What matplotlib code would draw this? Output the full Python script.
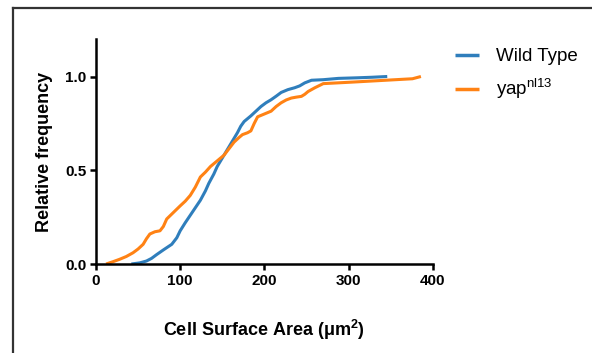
import numpy as np
import matplotlib
matplotlib.use('Agg')
import matplotlib.pyplot as plt
from matplotlib.lines import Line2D

plt.rcParams['font.family'] = ['Liberation Sans', 'DejaVu Sans']

# cumulative distribution
wt_x = [42, 52, 60, 66, 72, 80, 90, 96, 100, 106, 112, 118, 124, 130, 134, 140, 144, 150, 156, 162, 168, 172, 176, 180, 184, 190, 196, 202, 208, 214, 220, 228, 236, 242, 248, 256, 270, 288, 310, 328, 346]
wt_y = [0.0, 0.006, 0.016, 0.03, 0.05, 0.075, 0.105, 0.14, 0.177, 0.22, 0.26, 0.30, 0.34, 0.39, 0.43, 0.48, 0.52, 0.565, 0.61, 0.655, 0.70, 0.735, 0.76, 0.775, 0.79, 0.815, 0.84, 0.86, 0.876, 0.895, 0.915, 0.93, 0.94, 0.95, 0.966, 0.98, 0.983, 0.99, 0.993, 0.996, 1.0]

yap_x = [12, 20, 28, 36, 44, 50, 56, 60, 64, 70, 76, 80, 84, 92, 100, 106, 112, 118, 124, 130, 136, 144, 152, 158, 164, 170, 174, 180, 184, 188, 192, 200, 208, 214, 220, 226, 232, 238, 244, 248, 252, 260, 270, 304, 344, 376, 386]
yap_y = [0.0, 0.012, 0.025, 0.04, 0.06, 0.08, 0.105, 0.135, 0.16, 0.172, 0.177, 0.20, 0.24, 0.275, 0.31, 0.335, 0.366, 0.41, 0.464, 0.49, 0.52, 0.55, 0.58, 0.615, 0.65, 0.675, 0.69, 0.70, 0.71, 0.75, 0.785, 0.80, 0.815, 0.84, 0.86, 0.875, 0.885, 0.89, 0.894, 0.905, 0.92, 0.94, 0.962, 0.97, 0.98, 0.988, 1.0]

xticks = [0, 100, 200, 300, 400]
yticks = [0.0, 0.5, 1.0]

fig = plt.figure(figsize=(5.92, 3.53), dpi=100)
ax = fig.add_axes([96/592, 1 - 264/353, (432.7 - 96)/592, (264 - 39)/353])

ax.plot(wt_x, wt_y, color='#2f7ebc', lw=2.2, label='Wild Type', solid_capstyle='butt')
ax.plot(yap_x, yap_y, color='#ff8214', lw=2.2, label='yap$^{\\mathregular{nl13}}$', solid_capstyle='butt')

ax.set_xlim(0, 400)
ax.set_ylim(0, 1.2)
ax.set_xticks(xticks)
ax.set_yticks(yticks)
ax.set_yticklabels(['0.0', '0.5', '1.0'])
for s in ['top', 'right']:
    ax.spines[s].set_visible(False)
for s in ['left', 'bottom']:
    ax.spines[s].set_linewidth(1.8)
ax.tick_params(width=1.8, length=4, labelsize=11, pad=3)
for lab in ax.get_xticklabels() + ax.get_yticklabels():
    lab.set_fontweight('bold')

ax.set_ylabel('Relative frequency', fontsize=13, fontweight='bold', labelpad=9)
ax.set_xlabel('Cell Surface Area ($\\mathregular{\\mu m^2}$)', fontsize=13, fontweight='bold', labelpad=22)

leg = ax.legend(loc='upper left', bbox_to_anchor=(1.015, 1.035), frameon=False, fontsize=13.5,
                handlelength=1.3, handletextpad=0.9, labelspacing=0.6)
for h in leg.get_lines():
    h.set_linewidth(2.5)

# frame round the picture
fig.add_artist(Line2D([12.5/592, 12.5/592], [0, 1 - 7.5/353], color='#333333', lw=1.6))
fig.add_artist(Line2D([12.5/592, 1], [1 - 7.5/353, 1 - 7.5/353], color='#333333', lw=1.6))

fig.savefig('out.png', dpi=100)
